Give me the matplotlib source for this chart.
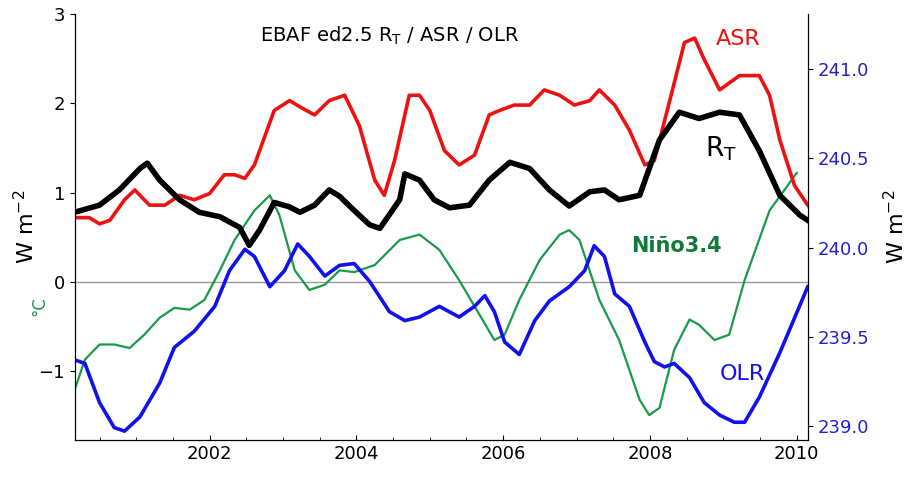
import matplotlib
matplotlib.use("Agg")
import matplotlib.pyplot as plt

rt_year = [2000.16,2000.50,2000.77,2001.05,2001.15,2001.32,2001.59,2001.86,2002.14,2002.41,2002.54,2002.68,2002.88,2003.09,2003.23,2003.43,2003.63,2003.77,2003.97,2004.18,2004.32,2004.59,2004.66,2004.86,2005.06,2005.27,2005.54,2005.81,2006.09,2006.36,2006.63,2006.90,2007.18,2007.38,2007.58,2007.86,2008.13,2008.40,2008.67,2008.95,2009.22,2009.49,2009.77,2010.04,2010.15]
rt_val = [0.78,0.86,1.03,1.27,1.33,1.14,0.92,0.78,0.73,0.61,0.41,0.58,0.89,0.84,0.78,0.86,1.03,0.96,0.80,0.64,0.60,0.92,1.21,1.14,0.92,0.83,0.86,1.14,1.34,1.27,1.03,0.85,1.01,1.03,0.92,0.97,1.59,1.90,1.83,1.90,1.87,1.47,0.97,0.75,0.69]

asr_year = [2000.16,2000.36,2000.50,2000.64,2000.84,2000.98,2001.18,2001.39,2001.59,2001.79,2002.00,2002.20,2002.34,2002.48,2002.61,2002.88,2003.09,2003.23,2003.43,2003.63,2003.84,2004.04,2004.25,2004.38,2004.52,2004.72,2004.86,2005.00,2005.20,2005.40,2005.61,2005.81,2005.95,2006.15,2006.36,2006.56,2006.77,2006.97,2007.18,2007.31,2007.52,2007.72,2007.93,2008.06,2008.27,2008.47,2008.61,2008.74,2008.95,2009.22,2009.49,2009.63,2009.77,2009.97,2010.15]
asr_val = [0.72,0.72,0.65,0.69,0.92,1.03,0.86,0.86,0.97,0.92,0.99,1.20,1.20,1.16,1.31,1.92,2.03,1.96,1.87,2.03,2.09,1.75,1.14,0.97,1.36,2.09,2.09,1.92,1.47,1.31,1.42,1.87,1.92,1.98,1.98,2.15,2.09,1.98,2.03,2.15,1.98,1.70,1.31,1.36,2.03,2.68,2.73,2.49,2.15,2.31,2.31,2.09,1.59,1.08,0.86]

nino_year = [2000.16,2000.30,2000.50,2000.70,2000.91,2001.11,2001.32,2001.52,2001.73,2001.93,2002.14,2002.34,2002.61,2002.82,2002.95,2003.16,2003.36,2003.57,2003.77,2003.97,2004.25,2004.59,2004.86,2005.13,2005.40,2005.68,2005.88,2006.02,2006.22,2006.50,2006.77,2006.90,2007.04,2007.31,2007.58,2007.86,2007.99,2008.13,2008.33,2008.54,2008.67,2008.88,2009.08,2009.29,2009.63,2010.00]
nino_val = [-1.21,-0.87,-0.70,-0.70,-0.74,-0.59,-0.40,-0.29,-0.31,-0.20,0.13,0.47,0.80,0.97,0.75,0.13,-0.09,-0.03,0.13,0.11,0.19,0.47,0.53,0.36,0.02,-0.37,-0.65,-0.59,-0.20,0.25,0.53,0.58,0.47,-0.20,-0.65,-1.32,-1.49,-1.41,-0.76,-0.42,-0.48,-0.65,-0.59,0.02,0.80,1.22]

olr_year = [2000.16,2000.30,2000.50,2000.70,2000.84,2001.05,2001.32,2001.52,2001.79,2002.07,2002.27,2002.48,2002.61,2002.82,2003.02,2003.20,2003.36,2003.57,2003.77,2003.97,2004.18,2004.45,2004.66,2004.86,2005.13,2005.40,2005.61,2005.75,2005.88,2006.02,2006.22,2006.43,2006.63,2006.90,2007.11,2007.24,2007.38,2007.52,2007.72,2007.93,2008.06,2008.20,2008.33,2008.54,2008.74,2008.95,2009.15,2009.29,2009.49,2009.77,2010.15]
olr_val = [239.37,239.35,239.13,238.99,238.97,239.05,239.24,239.44,239.53,239.67,239.87,239.99,239.95,239.78,239.87,240.02,239.95,239.84,239.90,239.91,239.81,239.64,239.59,239.61,239.67,239.61,239.67,239.73,239.64,239.47,239.40,239.59,239.70,239.78,239.87,240.01,239.95,239.74,239.67,239.47,239.36,239.33,239.35,239.27,239.13,239.06,239.02,239.02,239.16,239.41,239.78]

left_ticks = [-1, 0, 1, 2, 3]
right_ticks = [239.0, 239.5, 240.0, 240.5, 241.0]
year_ticks = [2002, 2004, 2006, 2008, 2010]

fig = plt.figure(figsize=(9.21, 4.82), dpi=100)
ax = fig.add_axes([0.081, 0.087, 0.796, 0.884])
ax.axhline(0, color="#999999", lw=1)
ax.plot(nino_year, nino_val, color="#1a9a4a", lw=1.6, solid_joinstyle="round")
ax.plot(asr_year, asr_val, color="#ee1111", lw=2.6, solid_joinstyle="round")
ax.plot(rt_year, rt_val, color="black", lw=4, solid_joinstyle="round")
ax.set_yticks(left_ticks)
ax.set_xticks(year_ticks)
ax.set_xticks([y + d for y in range(2000, 2011) for d in (0.5, 1.0)], minor=True)
ax.tick_params(labelsize=13, direction="out")
ax.tick_params(axis="x", which="both", direction="in")
ax.spines["top"].set_visible(False)
ax.set_ylabel("W m$^{-2}$", fontsize=16, labelpad=0)
ax.text(-0.048, 0.30, "°C", transform=ax.transAxes, color="#1a9a4a", fontsize=12, rotation=90, ha="center")

ax2 = ax.twinx()
ax2.plot(olr_year, olr_val, color="#1111ee", lw=2.6, solid_joinstyle="round")
ax2.set_yticks(right_ticks)
ax2.set_yticklabels([f"{t:.1f}" for t in right_ticks], color="#2222cc")
ax2.tick_params(labelsize=13, direction="out")
ax2.spines["top"].set_visible(False)
ax2.set_ylabel("W m$^{-2}$", fontsize=16, rotation=90, labelpad=10)

ax.set_xlim(2000.16, 2010.15)
ax.set_ylim(-1.77, 3.0)
ax2.set_ylim(238.92, 241.31)

ax.text(0.43, 0.975, "EBAF ed2.5 R$_\\mathrm{T}$ / ASR / OLR", transform=ax.transAxes, fontsize=14, ha="center", va="top")
ax.text(2008.9, 2.65, "ASR", color="#ee1111", fontsize=16)
ax.text(2008.75, 1.4, "R$_\\mathrm{T}$", color="black", fontsize=19)
ax.text(2007.75, 0.33, "Niño3.4", color="#117a3a", fontsize=15, fontweight="bold")
ax.text(2008.95, -1.1, "OLR", color="#1111ee", fontsize=16)

fig.savefig("out.png", dpi=100)
